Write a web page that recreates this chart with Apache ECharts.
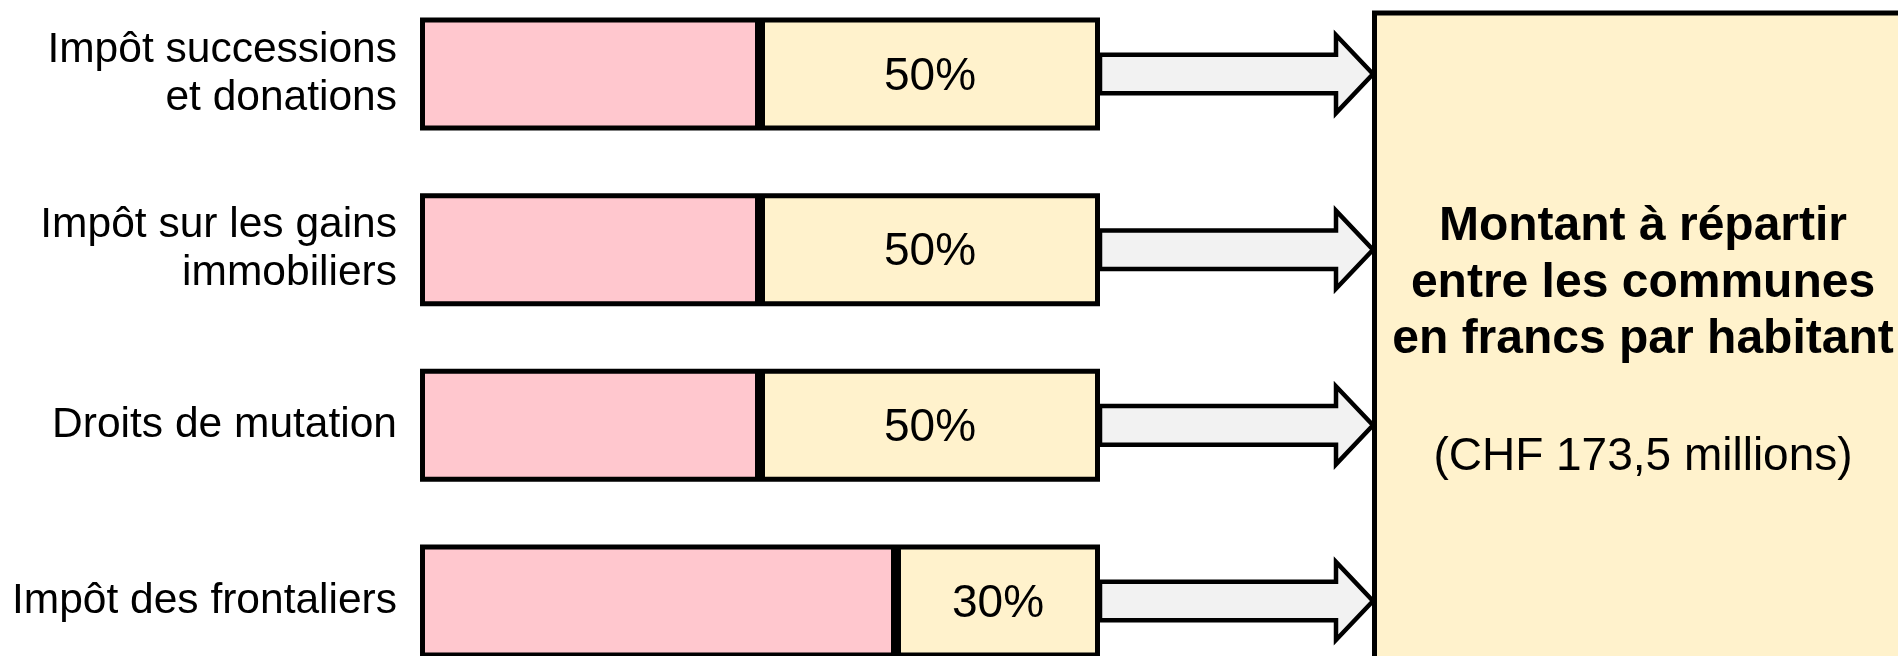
<!DOCTYPE html>
<html>
<head>
<meta charset="utf-8">
<script src="https://cdn.jsdelivr.net/npm/echarts@6/dist/echarts.min.js"></script>
<style>
  html, body { margin: 0; padding: 0; background: #ffffff; }
  #chart { width: 1898px; height: 656px; }
</style>
</head>
<body>
<div id="chart"></div>
<script>
// Tax revenues and the share of each that goes into the communal pool
const categories = [
  'Impôt successions\net donations',
  'Impôt sur les gains\nimmobiliers',
  'Droits de mutation',
  'Impôt des frontaliers'
];
const cantonShare = [50, 50, 50, 70];
const communeShare = [50, 50, 50, 30];

// Pooled amount box
const boxLines = ['Montant à répartir', 'entre les communes', 'en francs par habitant'];
const boxAmount = '(CHF 173,5 millions)';

const FONT = '"Liberation Sans", Arial, Helvetica, sans-serif';
const BOX_LEFT = 1374.5;   // left edge of the pooled-amount box
const BOX_TOP = 13;
const BOX_CENTER_X = 1643;

const chart = echarts.init(document.getElementById('chart'), null, { renderer: 'canvas' });

// Block arrow running from the end of a bar to the pooled-amount box
function renderArrow(params, api) {
  const start = api.coord([api.value(0), api.value(1)]);
  const x0 = start[0];
  const c = start[1];
  const tip = BOX_LEFT - 1.5;
  const headBase = tip - 37;
  const shaft = 19.3;
  const head = 39;
  return {
    type: 'polygon',
    shape: {
      points: [
        [x0, c - shaft], [headBase, c - shaft], [headBase, c - head],
        [tip, c],
        [headBase, c + head], [headBase, c + shaft], [x0, c + shaft]
      ]
    },
    style: { fill: '#F2F2F2', stroke: '#000000', lineWidth: 4.5, lineJoin: 'miter' }
  };
}

const boxGraphics = [
  {
    type: 'rect',
    z: 10,
    shape: { x: BOX_LEFT, y: BOX_TOP, width: 700, height: 700 },
    style: { fill: '#FFF2CC', stroke: '#000000', lineWidth: 5 }
  }
];
boxLines.forEach(function (line, i) {
  boxGraphics.push({
    type: 'text',
    z: 11,
    x: BOX_CENTER_X,
    y: 227 + i * 56.5,
    style: {
      text: line,
      fontSize: 48,
      fontWeight: 'bold',
      fontFamily: FONT,
      fill: '#000000',
      align: 'center',
      verticalAlign: 'middle'
    }
  });
});
boxGraphics.push({
  type: 'text',
  z: 11,
  x: BOX_CENTER_X,
  y: 457,
  style: {
    text: boxAmount,
    fontSize: 46,
    fontFamily: FONT,
    fill: '#000000',
    align: 'center',
    verticalAlign: 'middle'
  }
});

const option = {
  animation: false,
  backgroundColor: '#ffffff',
  grid: {
    left: 420,
    width: 680,
    top: -13.8,
    height: 702.6,
    outerBoundsMode: 'none',
    containLabel: false
  },
  xAxis: {
    type: 'value',
    min: 0,
    max: 100,
    show: false
  },
  yAxis: {
    type: 'category',
    data: categories,
    inverse: true,
    axisLine: { show: false },
    axisTick: { show: false },
    splitLine: { show: false },
    axisLabel: {
      margin: 23,
      fontSize: 42.5,
      lineHeight: 48,
      fontFamily: FONT,
      color: '#000000',
      align: 'right',
      padding: [2, 0, 0, 0]
    }
  },
  series: [
    {
      name: 'Canton',
      type: 'bar',
      stack: 'share',
      barWidth: 113,
      data: cantonShare,
      itemStyle: { color: '#FFC7CE', borderColor: '#000000', borderWidth: 5 },
      z: 3
    },
    {
      name: 'Communes',
      type: 'bar',
      stack: 'share',
      barWidth: 113,
      data: communeShare,
      itemStyle: { color: '#FFF2CC', borderColor: '#000000', borderWidth: 5 },
      label: {
        show: true,
        position: 'inside',
        formatter: '{c}%',
        fontSize: 46,
        fontFamily: FONT,
        color: '#000000',
        offset: [0, 3]
      },
      z: 3
    },
    {
      name: 'Flux',
      type: 'custom',
      renderItem: renderArrow,
      clip: false,
      encode: { x: 0, y: 1 },
      data: categories.map(function (c, i) {
        return [cantonShare[i] + communeShare[i], i];
      }),
      z: 2
    }
  ],
  graphic: boxGraphics
};

chart.setOption(option);
</script>
</body>
</html>
